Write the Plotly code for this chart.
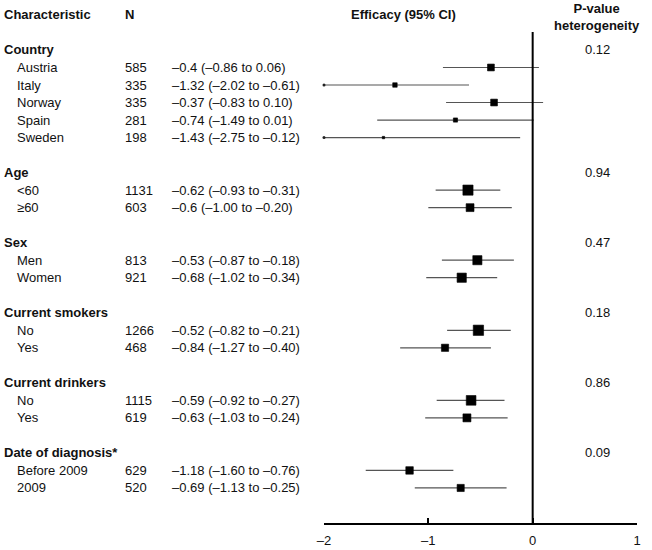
import numpy as np
import plotly.graph_objects as go

# ---------------- data ----------------
group_names = ["Country", "Age", "Sex", "Current smokers", "Current drinkers", "Date of diagnosis*"]
group_pvalues = ["0.12", "0.94", "0.47", "0.18", "0.86", "0.09"]

subgroups = ["Austria", "Italy", "Norway", "Spain", "Sweden",
             "<60", "≥60",
             "Men", "Women",
             "No", "Yes",
             "No", "Yes",
             "Before 2009", "2009"]
subgroup_group = [0, 0, 0, 0, 0, 1, 1, 2, 2, 3, 3, 4, 4, 5, 5]
n_values = [585, 335, 335, 281, 198, 1131, 603, 813, 921, 1266, 468, 1115, 619, 629, 520]
estimates = [-0.4, -1.32, -0.37, -0.74, -1.43, -0.62, -0.6, -0.53, -0.68, -0.52, -0.84,
             -0.59, -0.63, -1.18, -0.69]
ci_low = [-0.86, -2.02, -0.83, -1.49, -2.75, -0.93, -1.00, -0.87, -1.02, -0.82, -1.27,
          -0.92, -1.03, -1.60, -1.13]
ci_high = [0.06, -0.61, 0.10, 0.01, -0.12, -0.31, -0.20, -0.18, -0.34, -0.21, -0.40,
           -0.27, -0.24, -0.76, -0.25]

x_ticks = [-2, -1, 0, 1]
x_ticktext = ["–2", "–1", "0", "1"]

# ---------------- layout helpers ----------------
W, H = 652, 550
L, R = 324, 15          # plot area from x=324 to x=637
PLOT_W = W - L - R
X_MIN, X_MAX = -2, 1
FONT = "Liberation Sans, Arial, Helvetica, sans-serif"
FS = 13


def px_to_paper(px):
    return (px - L) / PLOT_W


def dash(s):
    return s.replace("-", "–")


# assign rows: header row 0, blank row, then group heading + items + blank
group_rows = []
sub_rows = []
row = 2
for g in range(len(group_names)):
    group_rows.append(row)
    row += 1
    for i, gg in enumerate(subgroup_group):
        if gg == g:
            sub_rows.append(row)
            row += 1
    row += 1
sub_rows = np.array(sub_rows, dtype=float)
AXIS_ROW = row  # 29

est = np.array(estimates)
lo = np.array(ci_low)
hi = np.array(ci_high)
lo_clip = np.clip(lo, X_MIN, X_MAX)
hi_clip = np.clip(hi, X_MIN, X_MAX)
sizes = 6.3 / (hi - lo)

fig = go.Figure()

# CI lines
xs, ys = [], []
for a, b, r in zip(lo_clip, hi_clip, sub_rows):
    xs += [a, b, None]
    ys += [r, r, None]
fig.add_trace(go.Scatter(x=xs, y=ys, mode="lines",
                         line=dict(color="#555555", width=1.2),
                         hoverinfo="skip", showlegend=False))

# truncation dots
trunc = lo < X_MIN
fig.add_trace(go.Scatter(x=lo_clip[trunc], y=sub_rows[trunc], mode="markers",
                         marker=dict(symbol="circle", size=3, color="#222222"),
                         cliponaxis=False, hoverinfo="skip", showlegend=False))

# point estimates
fig.add_trace(go.Scatter(x=est, y=sub_rows, mode="markers",
                         marker=dict(symbol="square", size=sizes, color="black",
                                     opacity=1, line=dict(width=0.6, color="black")),
                         hoverinfo="skip", showlegend=False))

# reference line at 0
fig.add_shape(type="line", xref="x", yref="y", x0=0, x1=0, y0=0.97, y1=AXIS_ROW,
              line=dict(color="black", width=2))

ann = []
tf = dict(family=FONT, size=FS, color="#111111")

# headers
ann.append(dict(x=px_to_paper(2), y=0, text="<b>Characteristic</b>", xanchor="left"))
ann.append(dict(x=px_to_paper(129), y=0, text="<b>N</b>", xanchor="center"))
ann.append(dict(x=px_to_paper(403), y=0, text="<b>Efficacy (95% CI)</b>", xanchor="center"))
ann.append(dict(x=px_to_paper(597), y=0.1, text="<b>P-value<br>heterogeneity</b>", xanchor="center"))

for g, name in enumerate(group_names):
    ann.append(dict(x=px_to_paper(2), y=group_rows[g], text="<b>" + name + "</b>", xanchor="left"))
    ann.append(dict(x=px_to_paper(597), y=group_rows[g], text=group_pvalues[g], xanchor="center"))

for i, name in enumerate(subgroups):
    r = sub_rows[i]
    ann.append(dict(x=px_to_paper(15), y=r, text=name.replace("<", "&lt;"), xanchor="left"))
    ann.append(dict(x=px_to_paper(123), y=r, text=str(n_values[i]), xanchor="left"))
    eff = f"{dash(str(estimates[i]))} ({dash(f'{ci_low[i]:.2f}')} to {dash(f'{ci_high[i]:.2f}')})"
    ann.append(dict(x=px_to_paper(170), y=r, text=eff, xanchor="left"))

annotations = []
for a in ann:
    d = dict(xref="paper", yref="y", showarrow=False, yanchor="middle", font=tf, align="center")
    d.update(a)
    annotations.append(d)

# y range so that row 0 is at pixel 15 and axis row at pixel 523
PLOT_H = 523
row_px = 17.52
top_row = AXIS_ROW - PLOT_H / row_px

fig.update_layout(
    width=W, height=H,
    margin=dict(l=L, r=R, t=0, b=H - PLOT_H, pad=0),
    paper_bgcolor="white", plot_bgcolor="white",
    font=dict(family=FONT, size=FS, color="#111111"),
    annotations=annotations,
    xaxis=dict(range=[X_MIN, X_MAX], showgrid=False, zeroline=False,
               showline=True, linecolor="black", linewidth=1.5,
               ticks="inside", ticklen=5, tickwidth=1.5, tickcolor="black",
               tickvals=x_ticks, ticktext=x_ticktext, ticklabelstandoff=5,
               tickfont=dict(family=FONT, size=FS, color="#111111")),
    yaxis=dict(range=[AXIS_ROW, top_row], visible=False, showgrid=False, zeroline=False),
)

fig.write_html("out.html", config={"displayModeBar": False},
               post_script="document.body.style.margin='0px';")
